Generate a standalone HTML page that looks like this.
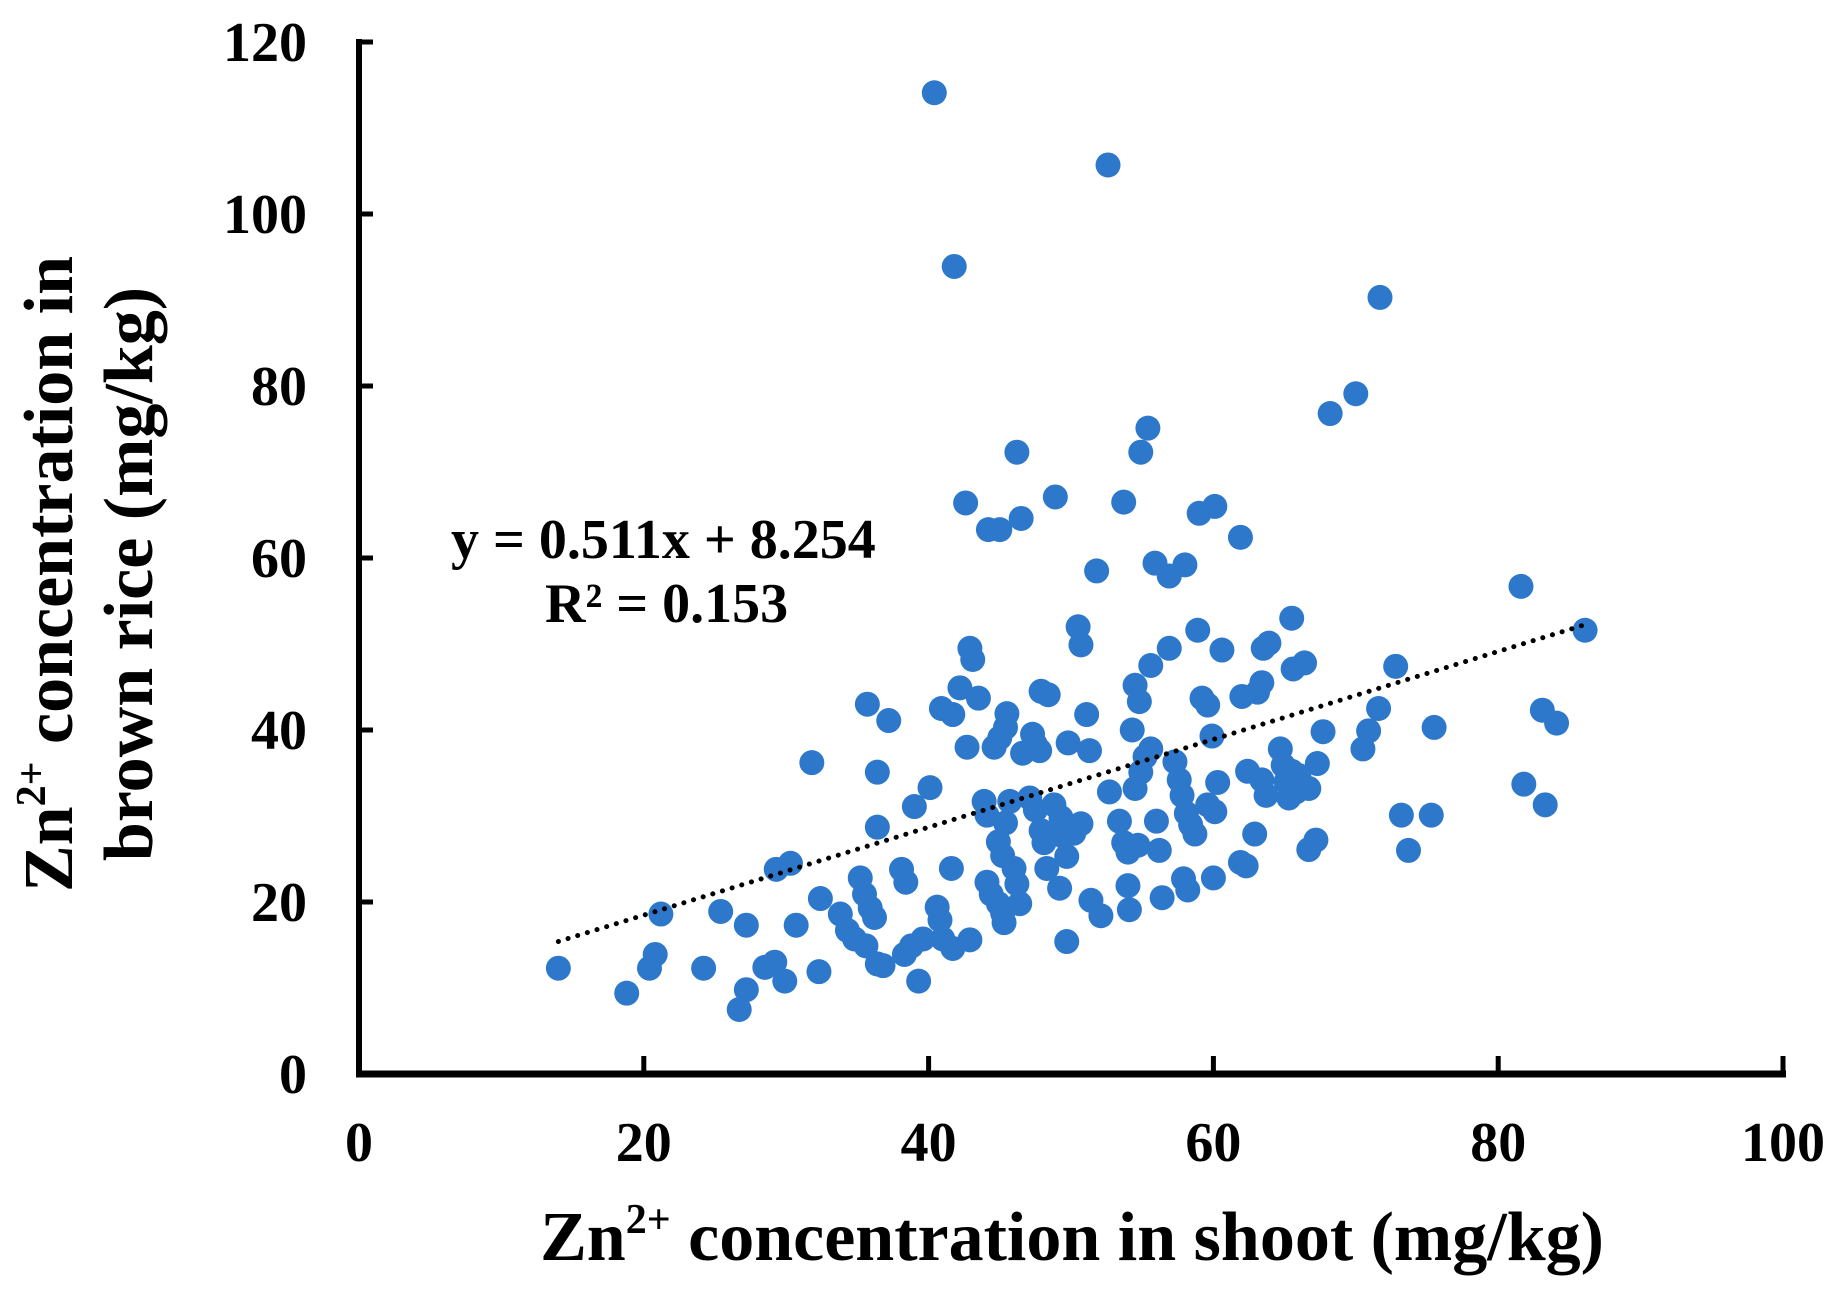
<!DOCTYPE html>
<html><head><meta charset="utf-8"><style>
html,body{margin:0;padding:0;background:#fff;}
svg{display:block;font-family:"Liberation Serif",serif;font-weight:bold;}
</style></head><body>
<svg id="chart" width="1838" height="1291" viewBox="0 0 1838 1291" xmlns="http://www.w3.org/2000/svg">
<g id="pts"></g>
<g id="axes"></g>
<text x="451" y="558" font-size="56">y = 0.511x + 8.254</text>
<text x="545" y="622" font-size="56">R² = 0.153</text>
<text x="1072" y="1260" font-size="70" text-anchor="middle">Zn<tspan font-size="42" dy="-27">2+</tspan><tspan dy="27"> concentration in shoot (mg/kg)</tspan></text>
<g transform="translate(72,574) rotate(-90)">
<text x="0" y="0" font-size="70" text-anchor="middle">Zn<tspan font-size="42" dy="-27">2+</tspan><tspan dy="27"> concentration in</tspan></text>
<text x="0" y="80" font-size="70" text-anchor="middle">brown rice (mg/kg)</text>
</g>
</svg>
<script>
const xs = [14.0,18.8,21.2,20.4,20.8,24.2,25.4,27.2,27.2,26.7,28.5,29.2,29.9,29.3,30.3,30.7,31.8,32.3,32.4,33.8,34.3,34.8,35.2,35.5,35.9,35.6,35.7,36.4,36.4,36.2,36.4,36.8,37.2,38.1,38.4,38.8,38.3,39.0,39.3,39.6,40.1,40.4,40.6,40.8,41.0,40.9,41.7,41.8,41.6,41.7,42.6,42.2,42.7,42.9,43.1,42.9,43.5,43.9,44.1,44.1,44.4,44.9,45.2,45.3,44.2,45.0,44.6,45.0,45.4,45.5,44.9,45.2,45.4,46.2,46.5,45.7,46.0,46.2,46.4,46.6,47.3,47.5,47.8,47.1,47.5,47.9,48.1,48.3,47.9,48.4,48.9,48.8,49.3,49.4,49.7,49.2,49.8,49.7,50.5,50.7,50.7,50.2,51.1,51.3,51.8,51.4,52.1,52.6,52.7,53.4,53.7,54.0,54.0,54.1,53.7,54.3,54.5,54.8,54.5,54.9,55.2,55.6,54.7,54.9,55.4,55.6,55.9,56.0,56.2,56.4,56.9,56.9,58.0,57.3,57.6,57.8,58.1,58.4,58.7,57.9,58.2,58.9,59.0,60.1,59.2,59.6,59.9,59.6,60.1,60.0,60.6,60.3,61.9,62.0,61.9,62.3,62.4,62.9,63.1,63.4,63.5,63.9,63.4,63.7,64.7,64.9,65.1,65.3,65.5,65.8,66.0,66.2,66.7,65.5,65.6,66.4,66.7,67.2,67.3,67.7,68.2,70.0,70.5,70.9,71.7,71.6,72.8,73.2,73.7,75.5,75.3,81.6,81.8,83.1,84.1,83.3,86.1];
const ys = [12.3,9.4,18.6,12.3,13.9,12.3,18.9,17.3,9.8,7.5,12.4,13.0,10.8,23.8,24.5,17.3,36.2,11.9,20.4,18.6,16.7,15.7,22.8,20.9,19.3,14.9,43.0,35.1,28.7,18.2,12.8,12.6,41.1,23.8,22.3,14.9,13.9,31.1,10.8,15.7,33.3,114.1,19.4,17.9,15.7,42.5,41.8,93.9,23.9,14.6,66.4,44.9,38.0,49.5,48.2,15.6,43.7,31.7,30.1,22.3,20.9,19.8,18.7,17.6,63.3,63.3,38.0,39.1,40.3,41.9,27.0,25.4,29.2,72.3,64.6,31.7,23.9,22.1,19.8,37.3,39.5,38.3,37.6,32.1,30.7,28.3,26.9,23.9,44.5,44.1,67.1,31.3,29.8,27.7,25.3,21.6,38.5,15.4,52.0,49.9,29.1,28.0,41.8,37.6,58.5,20.2,18.4,105.7,32.8,29.4,26.9,25.8,21.9,19.1,66.5,40.0,45.2,43.3,33.2,35.1,36.9,37.8,26.6,72.3,75.1,47.5,59.4,29.4,26.0,20.5,49.5,57.9,59.2,36.3,34.2,32.4,30.3,29.0,27.9,22.7,21.4,51.6,65.2,66.0,43.7,42.9,39.3,31.3,30.5,22.8,49.3,33.9,62.4,43.9,24.6,24.2,35.2,27.9,44.4,45.5,49.5,50.1,34.2,32.4,37.8,35.9,34.0,32.1,35.2,32.8,34.7,33.5,33.2,53.0,47.1,47.8,26.1,27.2,36.1,39.8,76.8,79.1,37.8,39.9,90.3,42.5,47.4,30.1,26.0,40.3,30.1,56.7,33.7,42.3,40.8,31.3,51.6];
const xTicks = [0,20,40,60,80,100];
const yTicks = [0,20,40,60,80,100,120];
const slope = 0.511, intercept = 8.254, trendRange = [14, 86];

const X = v => 359 + v * 14.24;
const Y = v => 1074 - v * 8.6;
const NS = 'http://www.w3.org/2000/svg';
function mk(tag, attrs, parent){const e=document.createElementNS(NS,tag);for(const k in attrs)e.setAttribute(k,attrs[k]);parent.appendChild(e);return e;}
const pts = document.getElementById('pts');
xs.forEach((x,i)=>{
  const c = mk('circle',{cx:X(x),cy:Y(ys[i]),r:12.5,fill:'#2e78cc'},pts);
  
  
});
const tl = mk('line',{x1:X(trendRange[0]),y1:Y(slope*trendRange[0]+intercept),x2:X(trendRange[1]),y2:Y(slope*trendRange[1]+intercept),stroke:'#000','stroke-width':5,'stroke-dasharray':'0.1 10','stroke-linecap':'round'},pts);


const ax = document.getElementById('axes');
const ya = mk('line',{x1:X(0),y1:Y(120)-3,x2:X(0),y2:Y(0)+3,stroke:'#000','stroke-width':6},ax);


const xa = mk('line',{x1:X(0)-3,y1:Y(0),x2:X(100)+3,y2:Y(0),stroke:'#000','stroke-width':7},ax);


yTicks.forEach(t=>{
  if(t>0){mk('line',{x1:X(0),y1:Y(t),x2:X(0)+14,y2:Y(t),stroke:'#000','stroke-width':5},ax);}
  const tx = mk('text',{x:307,y:Y(t)+19,'font-size':56,'text-anchor':'end'},ax);
  tx.textContent = t;
  
  
});
xTicks.forEach(t=>{
  if(t>0){mk('line',{x1:X(t),y1:Y(0),x2:X(t),y2:Y(0)-18,stroke:'#000','stroke-width':5},ax);}
  const tx = mk('text',{x:X(t),y:1161,'font-size':56,'text-anchor':'middle'},ax);
  tx.textContent = t;
  
  
});
</script>
</body></html>
